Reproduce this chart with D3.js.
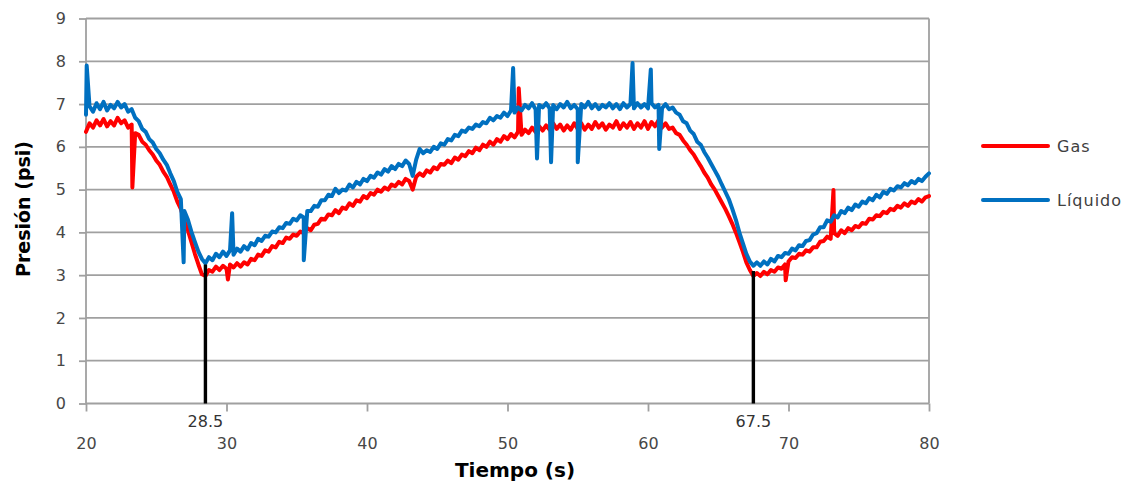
<!DOCTYPE html>
<html>
<head>
<meta charset="utf-8">
<script src="https://cdn.jsdelivr.net/npm/d3@7/dist/d3.min.js"></script>
<style>
  html, body { margin: 0; padding: 0; background: #fff; }
  svg { display: block; }
</style>
</head>
<body>
<svg id="chart" width="1140" height="485"></svg>
<script>
// ---------------- DATA ----------------
const tStart = 20;          // first sample time (s)
const tStep = 0.25;         // sampling interval (s)

// Líquido pressure (psi), one value every 0.25 s from 20 s to 80 s
const liquido = [
  6.75,6.95,6.82,7.02,6.88,7.05,6.85,6.98,6.90,7.05,6.92,7.00,6.82,6.88,6.68,6.60,6.42,6.35,6.18,6.10,
  5.95,5.85,5.70,5.58,5.38,5.20,4.95,4.78,4.50,4.30,4.02,3.78,3.55,3.38,3.28,3.42,3.35,3.50,3.42,3.55,
  3.45,3.58,3.48,3.62,3.55,3.68,3.60,3.75,3.70,3.85,3.80,3.92,3.90,4.02,4.00,4.12,4.10,4.22,4.20,4.32,
  4.28,4.40,4.35,4.50,4.50,4.62,4.60,4.75,4.75,4.88,4.85,5.02,4.92,5.00,4.98,5.12,5.05,5.18,5.12,5.25,
  5.20,5.32,5.28,5.40,5.35,5.48,5.42,5.55,5.48,5.60,5.55,5.68,5.60,5.32,5.70,5.95,5.85,5.92,5.88,6.00,
  5.95,6.08,6.05,6.18,6.15,6.28,6.25,6.38,6.35,6.45,6.42,6.52,6.48,6.58,6.55,6.68,6.62,6.72,6.68,6.80,
  6.72,6.85,6.80,6.92,6.85,6.98,6.90,7.02,6.88,6.98,6.92,7.02,6.90,6.98,6.88,7.00,6.92,7.05,6.90,6.98,
  6.88,7.00,6.92,7.05,6.90,7.00,6.88,6.98,6.92,7.02,6.90,7.00,6.88,7.02,6.92,7.00,6.90,7.02,6.92,7.00,
  6.90,7.02,6.92,6.98,6.90,7.00,6.88,6.92,6.80,6.75,6.60,6.55,6.38,6.30,6.12,6.05,5.88,5.75,5.60,5.45,
  5.30,5.12,4.95,4.78,4.55,4.30,4.00,3.75,3.50,3.32,3.22,3.30,3.22,3.32,3.25,3.38,3.32,3.45,3.42,3.52,
  3.50,3.62,3.58,3.70,3.68,3.80,3.82,3.95,3.98,4.12,4.12,4.28,4.25,4.40,4.35,4.50,4.45,4.58,4.52,4.65,
  4.60,4.72,4.68,4.80,4.75,4.88,4.82,4.95,4.90,5.02,4.98,5.08,5.05,5.15,5.10,5.20,5.15,5.25,5.20,5.30,
  5.38
];

// Gas pressure (psi), one value every 0.25 s from 20 s to 80 s
const gas = [
  6.35,6.55,6.45,6.62,6.50,6.65,6.48,6.60,6.50,6.68,6.55,6.62,6.45,6.52,6.32,6.28,6.12,6.05,5.92,5.82,
  5.68,5.58,5.42,5.30,5.12,4.95,4.72,4.55,4.28,4.05,3.78,3.50,3.25,3.02,2.98,3.12,3.08,3.20,3.12,3.22,
  3.15,3.25,3.18,3.28,3.20,3.30,3.25,3.38,3.35,3.48,3.45,3.58,3.55,3.68,3.65,3.78,3.75,3.88,3.85,3.95,
  3.92,4.02,3.98,4.10,4.05,4.18,4.20,4.32,4.30,4.42,4.40,4.52,4.45,4.58,4.55,4.68,4.62,4.75,4.72,4.85,
  4.80,4.92,4.88,5.00,4.95,5.05,5.00,5.12,5.08,5.18,5.12,5.25,5.20,5.00,5.30,5.38,5.32,5.45,5.40,5.52,
  5.48,5.60,5.58,5.68,5.62,5.75,5.70,5.82,5.78,5.90,5.85,5.98,5.92,6.05,6.00,6.12,6.05,6.18,6.12,6.25,
  6.18,6.30,6.22,6.35,6.28,6.40,6.32,6.45,6.35,6.48,6.38,6.50,6.40,6.55,6.42,6.52,6.38,6.50,6.40,6.55,
  6.42,6.55,6.40,6.52,6.42,6.58,6.45,6.55,6.40,6.52,6.45,6.60,6.42,6.55,6.45,6.58,6.42,6.55,6.45,6.60,
  6.42,6.58,6.48,6.62,6.45,6.55,6.42,6.45,6.32,6.28,6.15,6.05,5.92,5.82,5.68,5.55,5.40,5.28,5.12,5.00,
  4.85,4.70,4.55,4.38,4.20,4.00,3.78,3.55,3.30,3.12,2.98,3.05,2.98,3.08,3.02,3.12,3.08,3.18,3.15,3.25,
  3.32,3.42,3.40,3.50,3.48,3.58,3.55,3.65,3.65,3.78,3.80,3.90,3.85,3.98,3.92,4.05,3.98,4.10,4.05,4.15,
  4.12,4.22,4.20,4.32,4.30,4.40,4.38,4.48,4.45,4.55,4.52,4.62,4.58,4.68,4.62,4.72,4.68,4.78,4.72,4.82,
  4.85
];

// Isolated single-sample spikes [time s, psi]
const liquidoSpikes = [[20.05,7.90],[26.95,3.30],[30.40,4.45],[35.50,3.35],[50.40,7.84],
                       [52.10,5.73],[53.10,5.64],[55.00,5.64],[58.90,7.96],[60.20,7.81],[60.80,5.95]];
const gasSpikes = [[23.30,5.05],[30.10,2.90],[50.80,7.37],[69.80,2.88],[73.20,4.99]];

// Marked minimum times and the height of their marker lines
const markerTimes = [28.5, 67.5];
const markerTops = [3.25, 3.1];
const markerLabels = ["28.5", "67.5"];

const xTicks = [20, 30, 40, 50, 60, 70, 80];
const yTicks = [0, 1, 2, 3, 4, 5, 6, 7, 8, 9];
const seriesNames = ["Gas", "Líquido"];
const seriesColors = ["#ff0000", "#0070c0"];
const xTitle = "Tiempo (s)";
const yTitle = "Presión (psi)";

// ---------------- CHART ----------------
const svg = d3.select("#chart");
svg.append("rect").attr("width", 1140).attr("height", 485).attr("fill", "#fff");

const L = 86, R = 929, T = 18.5, B = 403.5;
const x = d3.scaleLinear().domain([20, 80]).range([L, R]);
const y = d3.scaleLinear().domain([0, 9]).range([B, T]);

const gridColor = "#a0a0a0";
const labelFont = "'DejaVu Sans', Verdana, sans-serif";

// horizontal gridlines
svg.append("g")
  .selectAll("line").data(yTicks.filter(d => d > 0)).join("line")
  .attr("x1", L).attr("x2", R)
  .attr("y1", d => y(d)).attr("y2", d => y(d))
  .attr("stroke", gridColor).attr("stroke-width", 1.8);

// right border
svg.append("line").attr("x1", R).attr("x2", R).attr("y1", T).attr("y2", B)
  .attr("stroke", gridColor).attr("stroke-width", 1.8);

// y axis
const yAxis = svg.append("g").attr("transform", `translate(${L},0)`)
  .call(d3.axisLeft(y).tickValues(yTicks).tickSize(7).tickPadding(13).tickFormat(d3.format("d")));
yAxis.select(".domain").attr("stroke", gridColor).attr("stroke-width", 1.8)
  .attr("d", `M0,${T}V${B}`);
yAxis.selectAll(".tick line").attr("stroke", gridColor).attr("stroke-width", 1.8);
yAxis.selectAll(".tick text").attr("fill", "#474747")
  .style("font-family", labelFont).style("font-size", "16px");

// x axis
const xAxis = svg.append("g").attr("transform", `translate(0,${B})`)
  .call(d3.axisBottom(x).tickValues(xTicks).tickSize(8).tickPadding(26).tickFormat(d3.format("d")));
xAxis.select(".domain").attr("stroke", gridColor).attr("stroke-width", 1.8)
  .attr("d", `M${L},0H${R}`);
xAxis.selectAll(".tick line").attr("stroke", gridColor).attr("stroke-width", 1.8);
xAxis.selectAll(".tick text").attr("fill", "#474747")
  .style("font-family", labelFont).style("font-size", "16px");

// build series
function buildSeries(vals, spikes) {
  const pts = vals.map((v, i) => ({ t: tStart + i * tStep, v }));
  spikes.forEach(([t, v]) => pts.push({ t, v }));
  pts.sort((a, b) => a.t - b.t);
  return pts;
}
const line = d3.line().x(d => x(d.t)).y(d => y(d.v));
const seriesData = [buildSeries(gas, gasSpikes), buildSeries(liquido, liquidoSpikes)];

svg.append("g").selectAll("path").data(seriesData).join("path")
  .attr("d", line)
  .attr("fill", "none")
  .attr("stroke", (d, i) => seriesColors[i])
  .attr("stroke-width", 4)
  .attr("stroke-linejoin", "round")
  .attr("stroke-linecap", "round");

// markers
svg.append("g").selectAll("line").data(markerTimes).join("line")
  .attr("x1", d => x(d)).attr("x2", d => x(d))
  .attr("y1", y(0)).attr("y2", (d, i) => y(markerTops[i]))
  .attr("stroke", "#000").attr("stroke-width", 3.4);
svg.append("g").selectAll("text").data(markerTimes).join("text")
  .attr("x", d => x(d)).attr("y", 427)
  .attr("text-anchor", "middle")
  .attr("fill", "#333")
  .style("font-family", labelFont).style("font-size", "16px")
  .text((d, i) => markerLabels[i]);

// axis titles
svg.append("text")
  .attr("x", 515).attr("y", 477)
  .attr("text-anchor", "middle")
  .style("font-family", labelFont).style("font-size", "20px").style("font-weight", "bold")
  .attr("fill", "#000")
  .text(xTitle);
svg.append("text")
  .attr("transform", "translate(30,209) rotate(-90)")
  .attr("text-anchor", "middle")
  .style("font-family", labelFont).style("font-size", "19px").style("font-weight", "bold")
  .attr("fill", "#000")
  .text(yTitle);

// legend
const legend = svg.append("g");
const legY = [146, 200];
legend.selectAll("line").data(seriesNames).join("line")
  .attr("x1", 983).attr("x2", 1048)
  .attr("y1", (d, i) => legY[i]).attr("y2", (d, i) => legY[i])
  .attr("stroke", (d, i) => seriesColors[i]).attr("stroke-width", 4)
  .attr("stroke-linecap", "round");
legend.selectAll("text").data(seriesNames).join("text")
  .attr("x", 1057).attr("y", (d, i) => legY[i])
  .attr("dy", "0.35em")
  .attr("fill", "#404040")
  .style("font-family", labelFont).style("font-size", "16px").style("letter-spacing", "1px")
  .text(d => d);
</script>
</body>
</html>
